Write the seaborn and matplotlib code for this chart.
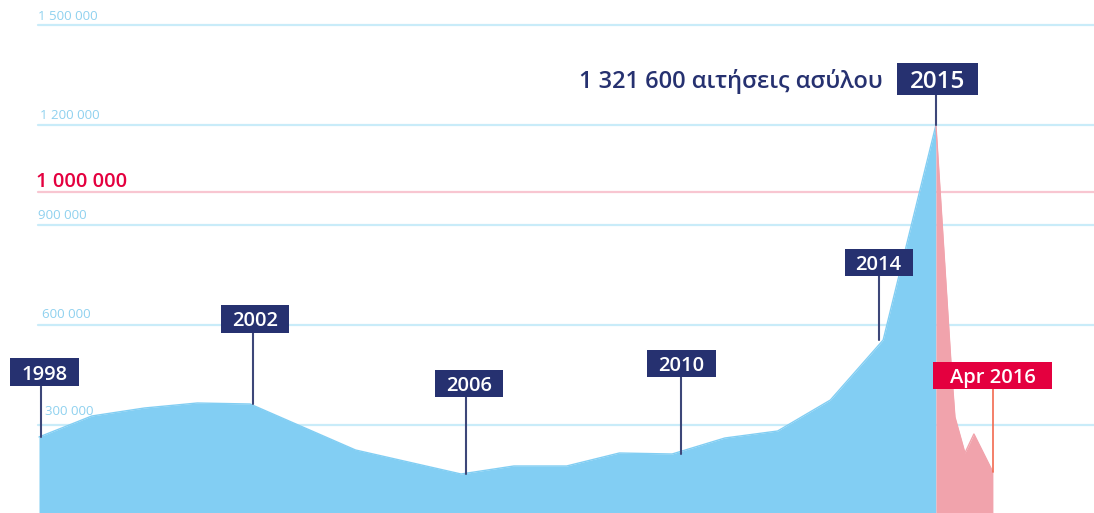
import matplotlib
matplotlib.use("Agg")
import matplotlib.pyplot as plt
import matplotlib.transforms as mtrans
from matplotlib.patches import Rectangle
import seaborn as sns
import pandas as pd

# ---- data ----
years = list(range(1998, 2016))
applications = [264000, 327000, 351000, 366000, 363000, 294000, 225000, 189000,
                153000, 177000, 177000, 216000, 213000, 261000, 282000, 375000,
                555000, 1200000]
# 2016 segment (positions on the year axis, values)
recent_pos = [2015.0, 2015.29, 2015.36, 2015.55, 2015.72, 2016.08]
recent_values = [1200000, 474000, 324000, 216000, 273000, 159000]

grid_values = [300000, 600000, 900000, 1200000, 1500000]
grid_labels = ["300 000", "600 000", "900 000", "1 200 000", "1 500 000"]
threshold_value = 1000000
threshold_label = "1 000 000"

callout_years = [1998, 2002, 2006, 2010, 2014]
callout_labels = ["1998", "2002", "2006", "2010", "2014"]
peak_label = "2015"
peak_text = "1 321 600 αιτήσεις ασύλου"
recent_label = "Apr 2016"

# ---- layout (label box centres in value units, small pixel nudges) ----
callout_box_y = [459000, 618000, 424500, 484500, 787500]
callout_line_dx = [2, 3, 5, 9, -4.5]
callout_box_dx = [5.5, 5, 8, 9, -4.5]
grid_label_dx = [7, 4, 0, 2, 0]
grid_label_dy = [7, 4, 3, 3, 2]
peak_box_y = 1338000
recent_box_y = 448500

# ---- style ----
AREA = "#82cef3"
PINK = "#f1a3ac"
NAVY = "#263170"
RED = "#e4003f"
GRID = "#c9ecf9"
GRID_TXT = "#8fd1ef"
LINE_NAVY = "#3d4779"

sns.set_style("white")
plt.rcParams["font.family"] = ["Open Sans", "DejaVu Sans"]

fig = plt.figure(figsize=(10.94, 5.13), dpi=100)
ax = fig.add_axes([0, 0, 1, 1])
px_per_year = 52.76
x0 = 1998 - 39 / px_per_year
ax.set_xlim(x0, x0 + 1094 / px_per_year)
ax.set_ylim(36000, 1575000)
ax.axis("off")
PX = 1 / px_per_year  # one pixel in year units

grid_start = 38 / 1094
for v, lab, dx, dy in zip(grid_values, grid_labels, grid_label_dx, grid_label_dy):
    ax.axhline(v, xmin=grid_start, xmax=1, color=GRID, lw=1.6, zorder=1)
    ax.annotate(lab, xy=(grid_start, v), xycoords=("axes fraction", "data"),
                xytext=(dx, dy), textcoords="offset pixels", ha="left", va="bottom",
                fontsize=9.5, color=GRID_TXT, zorder=6)
ax.axhline(threshold_value, xmin=grid_start, xmax=1, color="#f8c6d1", lw=1.6, zorder=1)
ax.annotate(threshold_label, xy=(grid_start, threshold_value),
            xycoords=("axes fraction", "data"), xytext=(-2, 0),
            textcoords="offset pixels", ha="left", va="bottom",
            fontsize=14.5, color=RED, fontweight="semibold", zorder=2)

df = pd.DataFrame({"year": years, "value": applications})
dr = pd.DataFrame({"pos": recent_pos, "value": recent_values})
base = 0
ax.fill_between(df["year"], df["value"], base, color=AREA, lw=0, zorder=3)
sns.lineplot(data=df, x="year", y="value", ax=ax, color=AREA, lw=1, zorder=3)
ax.fill_between(dr["pos"], dr["value"], base, color=PINK, lw=0, zorder=3)
sns.lineplot(data=dr, x="pos", y="value", ax=ax, color=PINK, lw=1, zorder=3,
             sort=False)


def label_box(x, y, text, w_px, h_px, fc, fs):
    trans = fig.dpi_scale_trans + mtrans.ScaledTranslation(x, y, ax.transData)
    w, h = w_px / fig.dpi, h_px / fig.dpi
    ax.add_patch(Rectangle((-w / 2, -h / 2), w, h, transform=trans, fc=fc,
                           ec="none", zorder=5, clip_on=False))
    ax.text(x, y, text, ha="center", va="center_baseline", fontsize=fs,
            color="white", fontweight="semibold", zorder=6)


box_w = [69, 68, 68, 69, 68]
box_h = [28, 28, 27, 27, 27]
for yr, lab, by, bw, bh, ldx, bdx in zip(callout_years, callout_labels, callout_box_y,
                                         box_w, box_h, callout_line_dx, callout_box_dx):
    v = applications[years.index(yr)]
    lx = yr + ldx * PX
    ax.plot([lx, lx], [v, by], color=LINE_NAVY, lw=1.5, zorder=4)
    label_box(yr + bdx * PX, by, lab, bw, bh, NAVY, 14.5)

peak_v = applications[-1]
ax.plot([years[-1], years[-1]], [peak_v, peak_box_y], color=LINE_NAVY, lw=1.5, zorder=4)
label_box(years[-1] + 1.5 * PX, peak_box_y, peak_label, 81, 32, NAVY, 17.5)
ax.annotate(peak_text, xy=(years[-1], peak_box_y), xytext=(-53, 0),
            textcoords="offset pixels", ha="right", va="center_baseline", fontsize=17,
            color=NAVY, fontweight="semibold", zorder=5)

ax.plot([recent_pos[-1], recent_pos[-1]], [recent_values[-1], recent_box_y],
        color="#f26a4f", lw=1.2, zorder=4)
label_box(recent_pos[-1], recent_box_y, recent_label, 119, 27, RED, 14.5)

fig.savefig("out.png", dpi=100)
